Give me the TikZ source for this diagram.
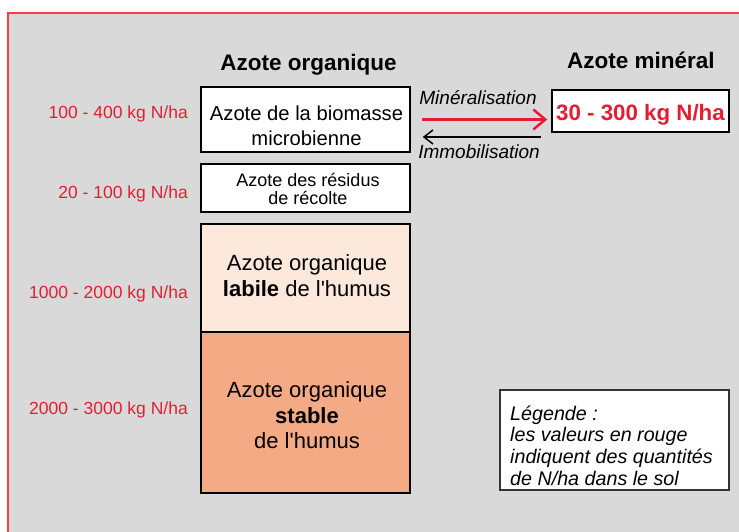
\documentclass[tikz,border=0pt]{standalone}
\usepackage{fontspec}
\setmainfont{Liberation Sans}[Ligatures=TeXOff]
\usetikzlibrary{arrows.meta}
\definecolor{bggray}{RGB}{217,217,217}
\definecolor{framered}{RGB}{255,60,60}
\definecolor{valred}{RGB}{228,30,50}
\definecolor{labile}{RGB}{253,233,220}
\definecolor{stable}{RGB}{244,170,132}
\tikzset{
  boxstyle/.style={draw=black, line width=1.5pt, fill=white, minimum width=209pt, inner sep=0pt},
  txt/.style={align=center, inner sep=0pt, text depth=0pt},
  val/.style={text=valred, anchor=base east, inner sep=0pt, font=\fontsize{17.5}{19}\selectfont},
  ttl/.style={anchor=base, inner sep=0pt, font=\bfseries\fontsize{22.5}{24}\selectfont},
  lbl/.style={anchor=base, inner sep=0pt, font=\itshape\fontsize{19}{21}\selectfont},
}
\begin{document}
\begin{tikzpicture}[x=1pt,y=-1pt]
\useasboundingbox (0,0) rectangle (739,532);
% frame
\fill[bggray] (8,13.5) rectangle (739,532);
\draw[framered, line width=2pt] (8,532) -- (8,13.5) -- (739,13.5);
% titles
\node[ttl] (t1) at (308.5,71) {Azote organique};
\node[ttl] (t2) at (641,69) {Azote minéral};
% organic boxes
\node[boxstyle, minimum height=65pt] (b1) at (305.5,119.5) {};
\node[txt, font=\fontsize{20.2}{25}\selectfont] (b1t) at (306.5,125.5) {Azote de la biomasse\\microbienne};
\node[boxstyle, minimum height=48pt] (b2) at (305.5,188) {};
\node[txt, font=\fontsize{18}{18.5}\selectfont] (b2t) at (308,189) {Azote des résidus\\de récolte};
\node[boxstyle, fill=labile, minimum height=108pt] (b3) at (305.5,278) {};
\node[txt, font=\fontsize{22}{26}\selectfont] (b3t) at (307,276) {Azote organique\\\textbf{labile} de l'humus};
\node[boxstyle, fill=stable, minimum height=161pt] (b4) at (305.5,412.5) {};
\node[txt, font=\fontsize{22}{25.5}\selectfont] (b4t) at (307,415.5) {Azote organique\\\textbf{stable}\\de l'humus};
% values
\node[val] (v1) at (188,119) {100 - 400 kg N/ha};
\node[val] (v2) at (188,198) {20 - 100 kg N/ha};
\node[val] (v3) at (188,298) {1000 - 2000 kg N/ha};
\node[val] (v4) at (188,414) {2000 - 3000 kg N/ha};
% mineral box
\node[draw=black, line width=1.5pt, fill=white, minimum width=177pt, minimum height=42pt, inner sep=0pt] (m) at (640.5,111) {};
\node[anchor=base, inner sep=0pt, text=valred, font=\bfseries\fontsize{22.3}{24}\selectfont] (mt) at (640.5,121) {30 - 300 kg N/ha};
% arrows
\draw[valred, line width=2.5pt, -{Straight Barb[length=12pt,width=20pt,line width=2.5pt]}]
  ([xshift=11pt]b1.east) -- ([xshift=-4pt]b1.east -| m.west);
\draw[black, line width=1.5pt, -{Straight Barb[length=9pt,width=14pt,line width=1.5pt]}]
  ([xshift=-10pt,yshift=-17.5pt]b1.east -| m.west) -- ([xshift=12pt,yshift=-17.5pt]b1.east);
\node[lbl] (l1) at (478,105) {Minéralisation};
\node[lbl] (l2) at (479,159) {Immobilisation};
% legend
\node[draw=black!80, line width=2pt, fill=white, minimum width=229pt, minimum height=100pt, inner sep=0pt] (leg) at (614.5,440) {};
\node[anchor=west, align=left, inner sep=0pt, text depth=0pt, font=\itshape\fontsize{19.7}{21.7}\selectfont] (legt) at (510,445.5) {Légende :\\les valeurs en rouge\\indiquent des quantités\\de N/ha dans le sol};
\end{tikzpicture}
\end{document}
